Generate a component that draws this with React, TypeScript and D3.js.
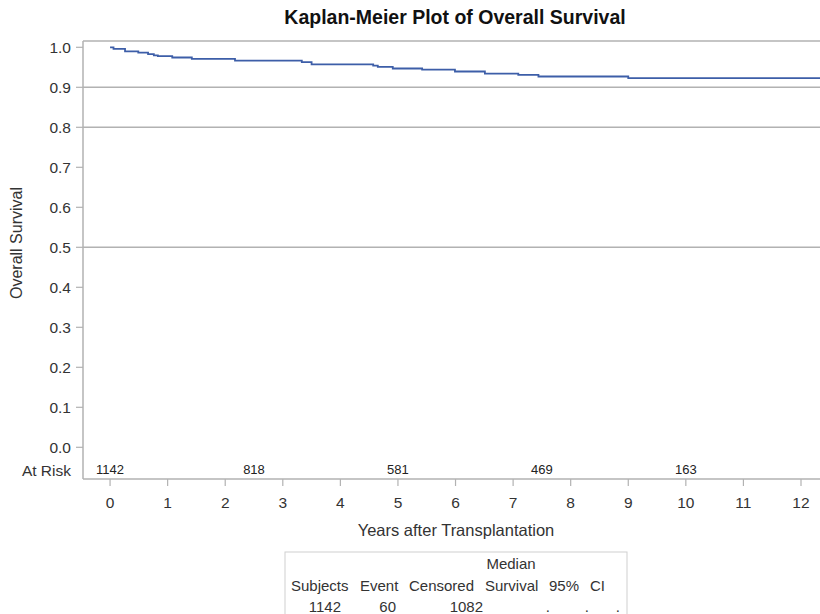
import React from "react";
import * as d3 from "d3";

// Kaplan-Meier step values
const eventTimes = [0, 0.06, 0.26, 0.49, 0.66, 0.76, 0.83, 1.08, 1.42, 2.17, 3.33, 3.5, 4.57, 4.65, 4.91, 5.42, 5.99, 6.51, 7.09, 7.44, 9.0, 12.33];
const survival = [1.0, 0.996, 0.99, 0.9865, 0.983, 0.98, 0.978, 0.9745, 0.971, 0.9665, 0.963, 0.9575, 0.954, 0.951, 0.947, 0.944, 0.9395, 0.934, 0.931, 0.927, 0.923, 0.923];

const atRiskTimes = [0, 2.5, 5, 7.5, 10];
const atRiskCounts = ["1142", "818", "581", "469", "163"];

const xTicks = [0, 1, 2, 3, 4, 5, 6, 7, 8, 9, 10, 11, 12];
const yTicks = [0, 0.1, 0.2, 0.3, 0.4, 0.5, 0.6, 0.7, 0.8, 0.9, 1.0];
const gridValues = [0.5, 0.8, 0.9];

const tableHeaders = ["Subjects", "Event", "Censored", "Survival", "95%", "CI"];
const tableValues = ["1142", "60", "1082", ".", ".", "."];

const FONT = "Liberation Sans, Arial, sans-serif";
const GRID = "#b2b2b2";

export default function App() {
  const width = 820;
  const height = 614;
  const left = 83;
  const top = 41;
  const bottom = 479;

  const x = d3.scaleLinear().domain([-0.47, 12.33]).range([left, 820]);
  const y = d3.scaleLinear().domain([0, 1]).range([447.3, 47.3]);

  const pts: [number, number][] = eventTimes.map((t, i) => [t, survival[i]]);
  const line = d3
    .line<[number, number]>()
    .x((d) => x(d[0]))
    .y((d) => y(d[1]))
    .curve(d3.curveStepAfter);

  // table column x positions (start of header text / right edge of values)
  const headerX = [291, 360, 409, 485, 549, 590];
  const valueX = [341, 396, 483, 550, 589, 620];

  return (
    <svg
      width={width}
      height={height}
      style={{ position: "absolute", left: 0, top: 0, background: "#fff" }}
      fontFamily={FONT}
    >
      <text x={455} y={24} textAnchor="middle" fontSize={19.5} fontWeight="bold" fill="#111">
        Kaplan-Meier Plot of Overall Survival
      </text>

      {/* frame */}
      <line x1={left} x2={width} y1={top} y2={top} stroke={GRID} strokeWidth={1.5} />
      <line x1={left} x2={width} y1={bottom} y2={bottom} stroke={GRID} strokeWidth={1.5} />
      <line x1={left} x2={left} y1={top} y2={bottom} stroke={GRID} strokeWidth={1.5} />

      {gridValues.map((v) => (
        <line key={v} x1={left} x2={width} y1={y(v)} y2={y(v)} stroke={GRID} strokeWidth={1.5} />
      ))}

      {/* y axis */}
      {yTicks.map((v) => (
        <g key={v}>
          <line x1={left - 7} x2={left} y1={y(v)} y2={y(v)} stroke={GRID} strokeWidth={1.2} />
          <text x={71} y={y(v) + 5.5} textAnchor="end" fontSize={15.5} fill="#333">
            {v.toFixed(1)}
          </text>
        </g>
      ))}
      <text
        transform={`translate(22, 243) rotate(-90)`}
        textAnchor="middle"
        fontSize={16}
        fill="#333"
      >
        Overall Survival
      </text>

      {/* at risk row */}
      <text x={71} y={476} textAnchor="end" fontSize={15.5} fill="#333">
        At Risk
      </text>
      {atRiskTimes.map((t, i) => (
        <text key={t} x={x(t)} y={474} textAnchor="middle" fontSize={13} fill="#222">
          {atRiskCounts[i]}
        </text>
      ))}

      {/* x axis */}
      {xTicks.map((t) => (
        <g key={t}>
          <line x1={x(t)} x2={x(t)} y1={bottom} y2={bottom + 7} stroke={GRID} strokeWidth={1.2} />
          <text x={x(t)} y={508} textAnchor="middle" fontSize={15.5} fill="#333">
            {t}
          </text>
        </g>
      ))}
      <text x={456} y={536} textAnchor="middle" fontSize={16.5} fill="#333">
        Years after Transplantation
      </text>

      {/* survival curve */}
      <path d={line(pts) || ""} fill="none" stroke="#3d5ea8" strokeWidth={1.8} />

      {/* summary table */}
      <rect x={285} y={552} width={342} height={80} fill="none" stroke="#cfcfcf" strokeWidth={1} />
      <text x={511} y={569} textAnchor="middle" fontSize={15} fill="#333">
        Median
      </text>
      {tableHeaders.map((h, i) => (
        <text key={h} x={headerX[i]} y={591} fontSize={15} fill="#333">
          {h}
        </text>
      ))}
      {tableValues.map((v, i) => (
        <text key={i} x={valueX[i]} y={612} textAnchor="end" fontSize={15} fill="#333">
          {v}
        </text>
      ))}
    </svg>
  );
}
